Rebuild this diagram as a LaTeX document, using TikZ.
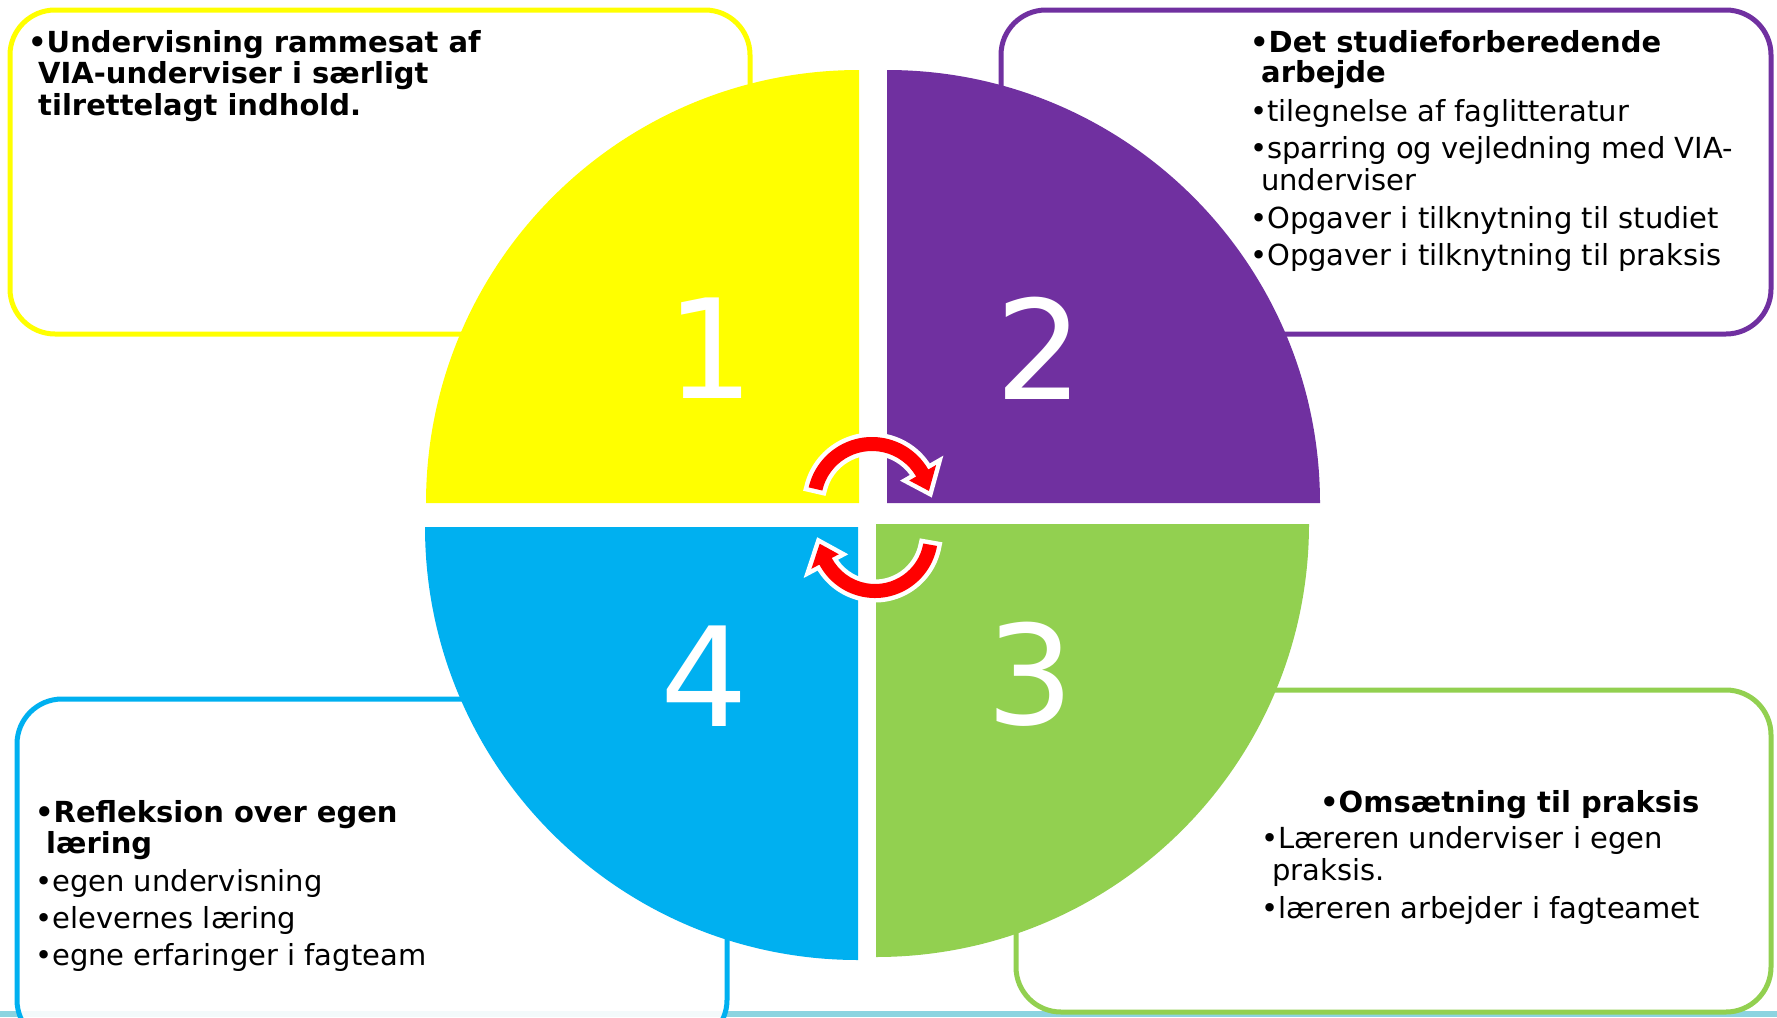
\documentclass[tikz,border=0pt]{standalone}
\usepackage{fontspec}
\setmainfont{DejaVu Sans}
\definecolor{cyel}{HTML}{FFFF00}
\definecolor{cpur}{HTML}{7030A0}
\definecolor{cgrn}{HTML}{92D050}
\definecolor{cblu}{HTML}{00B0F0}
\definecolor{cstrip}{RGB}{140,212,224}
\begin{document}
\begin{tikzpicture}[x=1pt,y=1pt,
  box/.style={line width=5pt, rounded corners=45pt, fill=white},
  txt/.style={anchor=base west, inner sep=0pt, text=black, font=\fontsize{29}{29}\selectfont},
  btxt/.style={anchor=base west, inner sep=0pt, text=black, font=\fontsize{29}{29}\selectfont\bfseries},
  num/.style={anchor=base, inner sep=0pt, text=white, font=\fontsize{138}{138}\selectfont},
  arr/.style={fill=red, preaction={draw=white, line width=9pt, line join=miter, miter limit=3}}
]
\useasboundingbox (0,0) rectangle (1777,-1017);
\fill[white] (0,0) rectangle (1777,-1017);
% bottom strip
\fill[cstrip] (0,-1011) rectangle (1777,-1017);
% boxes
\draw[box, draw=cyel] (10,-10) rectangle (750,-334);
\draw[box, draw=cpur] (1001,-10) rectangle (1771,-334);
\draw[box, draw=cgrn] (1016,-690) rectangle (1771,-1012);
\draw[box, draw=cblu, fill opacity=0.9] (17,-699) rectangle (727,-1045);
% quadrants
\fill[cyel] (859,-503) -- (426,-503) arc[start angle=180, end angle=90, radius=433pt] -- cycle;
\fill[cpur] (887,-503) -- (887,-70) arc[start angle=90, end angle=0, radius=433pt] -- cycle;
\fill[cgrn] (876,-524) -- (1309,-524) arc[start angle=0, end angle=-90, radius=433pt] -- cycle;
\fill[cblu] (858,-527) -- (858,-960) arc[start angle=270, end angle=180, radius=433pt] -- cycle;
% arrows
\begin{scope}[shift={(872,-502)}]
\path[arr] (167:51pt) arc[start angle=167, end angle=30, radius=51pt] -- (30:43pt) -- (11:58pt) -- (30:74pt) -- (30:65pt) arc[start angle=30, end angle=167, radius=65pt] -- cycle;
\end{scope}
\begin{scope}[shift={(875,-535)}]
\path[arr] (350:49pt) arc[start angle=350, end angle=208, radius=49pt] -- (208:41pt) -- (189:56pt) -- (208:72pt) -- (208:63pt) arc[start angle=208, end angle=350, radius=63pt] -- cycle;
\end{scope}
% numbers
\node[num] (n1) at (710,-398) {1};
\node[num] (n2) at (1039,-399) {2};
\node[num] (n3) at (1030,-724) {3};
\node[num] (n4) at (704,-726) {4};
% box 1 text
\node[btxt] (a1) at (28,-52) {•Undervisning rammesat af};
\node[btxt] (a2) at (38,-83) {VIA-underviser i særligt};
\node[btxt] (a3) at (38,-115) {tilrettelagt indhold.};
% box 2 text
\node[btxt] (b1) at (1250,-52) {•Det studieforberedende};
\node[btxt] (b2) at (1261,-82) {arbejde};
\node[txt] (b3) at (1250,-121) {•tilegnelse af faglitteratur};
\node[txt] (b4) at (1250,-158) {•sparring og vejledning med VIA-};
\node[txt] (b5) at (1261,-190) {underviser};
\node[txt] (b6) at (1250,-228) {•Opgaver i tilknytning til studiet};
\node[txt] (b7) at (1250,-265) {•Opgaver i tilknytning til praksis};
% box 3 text
\node[btxt] (c1) at (1320,-812) {•Omsætning til praksis};
\node[txt] (c2) at (1261,-848) {•Læreren underviser i egen};
\node[txt] (c3) at (1272,-880) {praksis.};
\node[txt] (c4) at (1261,-918) {•læreren arbejder i fagteamet};
% box 4 text
\node[btxt] (d1) at (35,-822) {•Refleksion over egen};
\node[btxt] (d2) at (46,-853) {læring};
\node[txt] (d3) at (35,-891) {•egen undervisning};
\node[txt] (d4) at (35,-928) {•elevernes læring};
\node[txt] (d5) at (35,-965) {•egne erfaringer i fagteam};
\end{tikzpicture}
\end{document}
